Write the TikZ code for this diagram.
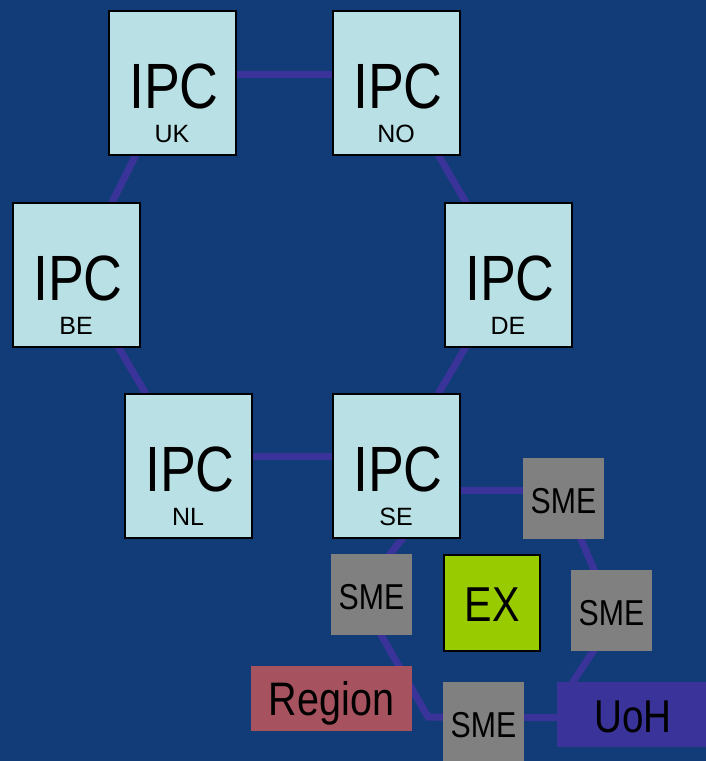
\documentclass[tikz,border=0pt]{standalone}
\usepackage{fontspec}
\setmainfont[FakeStretch=0.84]{Liberation Sans}
\newfontfamily\subfont{Liberation Sans}
\usetikzlibrary{calc}
\definecolor{bgblue}{HTML}{123C78}
\definecolor{linec}{HTML}{3A3399}
\definecolor{ipcfill}{HTML}{B9E0E4}
\definecolor{smegray}{HTML}{808080}
\definecolor{exgreen}{HTML}{99CC00}
\definecolor{regionc}{HTML}{A6535F}
\pgfdeclarelayer{back}
\pgfsetlayers{back,main}
\begin{document}
\begin{tikzpicture}[x=1pt,y=-1pt,
  conn/.style={line width=7pt, draw=linec},
  ipcbox/.style={draw=black, line width=2pt, fill=ipcfill, minimum width=127pt, minimum height=144pt, inner sep=0pt},
  ipcbig/.style={font=\fontsize{64}{64}\selectfont, anchor=base, inner sep=0pt},
  ipcsub/.style={font=\subfont\fontsize{25}{25}\selectfont, anchor=base, inner sep=0pt},
  smebox/.style={fill=smegray, minimum width=81pt, minimum height=81pt, inner sep=0pt, text height=29pt, text depth=0pt, font=\fontsize{36}{36}\selectfont},
  ]
\useasboundingbox (0,0) rectangle (706,761);
% IPC boxes
\foreach \nm/\lab/\cx/\cy in {uk/UK/172/82.5, no/NO/396/82.5, be/BE/76/274.5, de/DE/508/274.5, nl/NL/188/466, se/SE/396/466}{
  \node[ipcbox] (\nm) at (\cx,\cy) {};
  \node[ipcbig] (\nm-t) at ($(\nm.center)+(2,25.5)$) {IPC};
  \node[ipcsub] (\nm-s) at ($(\nm.center)+(0,59.5)$) {\lab};
}
% small nodes
\node[smebox] (sme1) at (563.5,498.5) {SME};
\node[smebox] (sme2) at (371.5,594.5) {SME};
\node[smebox] (sme3) at (611.5,610.5) {SME};
\node[smebox] (sme4) at (483.5,722.5) {SME};
\node[draw=black, line width=2pt, fill=exgreen, minimum width=96pt, minimum height=96pt, inner sep=0pt, text height=37pt, text depth=0pt, font=\fontsize{49}{49}\selectfont] (ex) at (492,602.5) {EX};
\node[fill=regionc, minimum width=161pt, minimum height=65pt, inner sep=0pt, text height=33pt, text depth=0pt, font=\fontsize{47}{47}\selectfont] (region) at (331.5,698.5) {Region};
\node[fill=linec, minimum width=152pt, minimum height=65pt, inner sep=0pt, text height=35pt, text depth=0pt, font=\fontsize{46}{46}\selectfont] (uoh) at (633,714.5) {UoH};
% connectors
\begin{pgfonlayer}{back}
\fill[bgblue] (0,0) rectangle (706,761);
\draw[conn] ($(uk.center)+(0,-8)$) -- ($(no.center)+(0,-8)$);
\draw[conn] (uk.center) -- (be.center);
\draw[conn] (no.center) -- (de.center);
\draw[conn] (be.center) -- (nl.center);
\draw[conn] (de.center) -- (se.center);
\draw[conn] ($(nl.center)+(0,-10)$) -- ($(se.center)+(0,-10)$);
\draw[conn] ($(se.center)+(0,24)$) -- ($(sme1.center)+(0,-8.5)$);
\draw[conn] (sme1.center) -- (sme3.center);
\draw[conn] ($(sme3.center)+(8.5,0)$) -- ($(uoh.center)+(-72,-14.5)$);
\draw[conn] ($(sme4.center)+(0,-5.5)$) -- ($(uoh.center)+(0,2.5)$);
\draw[conn] ($(se.center)+(37,34)$) -- ($(sme2.center)+(-13.5,0)$) -- ($(sme4.center)+(-55.5,-5.5)$) -- ($(sme4.center)+(0,-5.5)$);
\end{pgfonlayer}
\end{tikzpicture}
\end{document}
